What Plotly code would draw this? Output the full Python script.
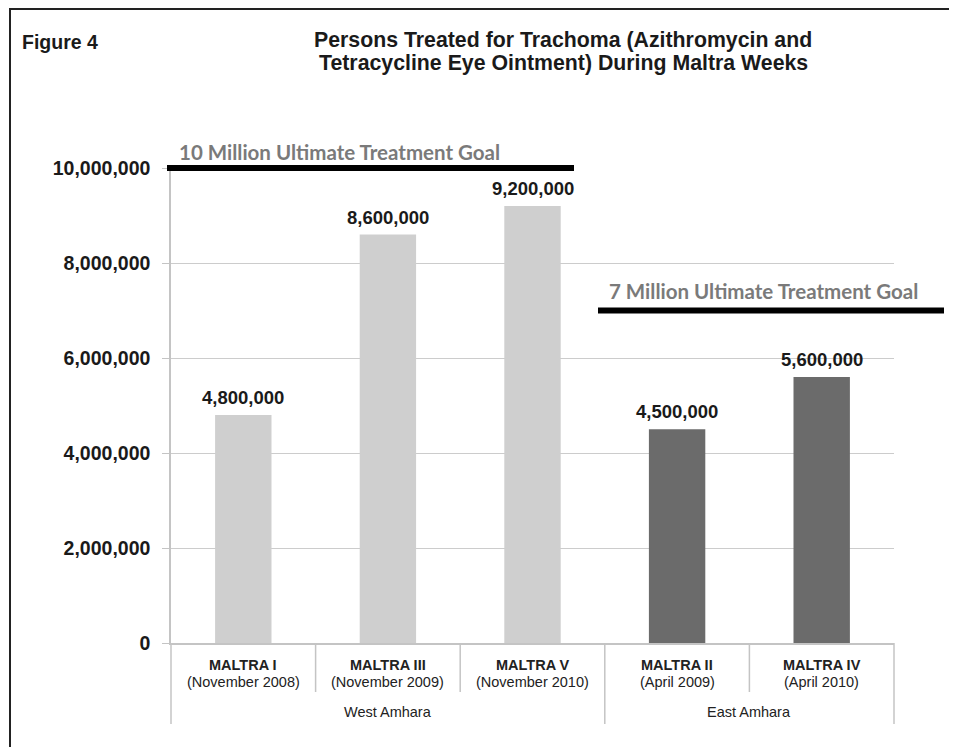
import plotly.graph_objects as go

# ---- data ----
programs = ["MALTRA I", "MALTRA III", "MALTRA V", "MALTRA II", "MALTRA IV"]
dates = ["(November 2008)", "(November 2009)", "(November 2010)", "(April 2009)", "(April 2010)"]
regions = ["West Amhara", "West Amhara", "West Amhara", "East Amhara", "East Amhara"]
treated = [4800000, 8600000, 9200000, 4500000, 5600000]
goal_values = [10000000, 7000000]
goal_labels = ["10 Million Ultimate Treatment Goal", "7 Million Ultimate Treatment Goal"]
y_ticks = [0, 2000000, 4000000, 6000000, 8000000, 10000000]
title_lines = ["Persons Treated for Trachoma (Azithromycin and",
               "Tetracycline Eye Ointment) During Maltra Weeks"]

region_colors = {"West Amhara": "#cfcfcf", "East Amhara": "#6b6b6b"}
ymax = max(y_ticks)
n = len(programs)

SW, SH = 957, 747          # browser window
OFF = 8                    # page offset of the figure inside the window
W, H = SW - OFF, SH - OFF  # figure size so that nothing overflows
# plot area in screen pixels
PL, PR, PT, PB = 171, 894, 168, 643
L = PL - OFF
T = PT - OFF
R = W - (PR - OFF)
B = H - (PB - OFF)
pw = PR - PL
ph = PB - PT


def px_x(p):
    return (p - PL) / pw


def px_y(p):
    return (PB - p) / ph


fig = go.Figure()
fig.add_trace(go.Bar(
    x=list(range(n)), y=treated,
    marker=dict(color=[region_colors[r] for r in regions], line=dict(width=0)),
    hoverinfo="skip", showlegend=False,
))

SANS = "Liberation Sans, Arial, sans-serif"
num_font = dict(family=SANS, size=18.5, color="#1a1a1a")

annotations = []
# value labels above bars
for i, v in enumerate(treated):
    annotations.append(dict(x=i, y=v, xref="x", yref="y", text=f"<b>{v:,}</b>",
                            showarrow=False, yanchor="bottom", yshift=5, font=num_font))

# category labels
for i in range(n):
    annotations.append(dict(x=i, y=px_y(665), xref="x", yref="paper", yanchor="middle",
                            text=f"<b>{programs[i]}</b>", showarrow=False,
                            font=dict(family=SANS, size=14.5, color="#222")))
    annotations.append(dict(x=i, y=px_y(682), xref="x", yref="paper", yanchor="middle",
                            text=dates[i], showarrow=False,
                            font=dict(family=SANS, size=14.5, color="#222")))

# region labels and dividers
shapes = []
groups = []
for i, r in enumerate(regions):
    if not groups or groups[-1][0] != r:
        groups.append([r, i, i])
    else:
        groups[-1][2] = i
for r, a, b in groups:
    annotations.append(dict(x=(a + b) / 2, y=px_y(712), xref="x", yref="paper", text=r,
                            showarrow=False, yanchor="middle",
                            font=dict(family=SANS, size=14.5, color="#222")))

group_edges = set()
for r, a, b in groups:
    group_edges.add(a)
    group_edges.add(b + 1)
for k in range(n + 1):
    y1 = px_y(724) if k in group_edges else px_y(692)
    shapes.append(dict(type="line", xref="paper", yref="paper", x0=k / n, x1=k / n,
                       y0=0, y1=y1, line=dict(color="#c4c4c4", width=1.5)))

# goal lines
goal_extents = [(167, 574), (598, 944)]
goal_text_pos = [(177, 152, "left"), (763, 291, "center")]
for g, lab, (xa, xb), (tx, ty, anc) in zip(goal_values, goal_labels, goal_extents, goal_text_pos):
    shapes.append(dict(type="line", xref="paper", yref="paper", x0=px_x(xa), x1=px_x(xb),
                       y0=g / ymax, y1=g / ymax, line=dict(color="#000", width=6)))
    annotations.append(dict(x=px_x(tx), y=px_y(ty), xref="paper", yref="paper",
                            text=f"<b>{lab}</b>", showarrow=False, xanchor=anc, yanchor="middle",
                            font=dict(family="Lato, Open Sans, sans-serif", size=20.5, color="#7a7a7a")))

# titles
annotations.append(dict(x=px_x(20), y=px_y(42), xref="paper", yref="paper", xanchor="left",
                        yanchor="middle", text="<b>Figure 4</b>", showarrow=False,
                        font=dict(family=SANS, size=19.5, color="#1a1a1a")))
for j, line in enumerate(title_lines):
    annotations.append(dict(x=px_x(563), y=px_y(40 + 23 * j), xref="paper", yref="paper",
                            xanchor="center", yanchor="middle",
                            text=f"<b>{line}</b>", showarrow=False,
                            font=dict(family=SANS, size=21.3, color="#1a1a1a")))

# outer frame
shapes.append(dict(type="rect", xref="paper", yref="paper", x0=px_x(10), x1=px_x(954),
                   y0=px_y(800), y1=px_y(OFF + 1), line=dict(color="#222", width=2)))

fig.update_layout(
    width=W, height=H,
    margin=dict(l=L, r=R, t=T, b=B),
    paper_bgcolor="white", plot_bgcolor="white",
    bargap=0.61,
    shapes=shapes, annotations=annotations,
    xaxis=dict(type="linear", range=[-0.5, n - 0.5], showticklabels=False, showgrid=False,
               zeroline=False, showline=True, linecolor="#c4c4c4", linewidth=1.5, ticks=""),
    yaxis=dict(range=[0, ymax], tickvals=y_ticks, tickformat=",", showgrid=True,
               gridcolor="#cccccc", gridwidth=1.2, zeroline=False, showline=True,
               linecolor="#c4c4c4", linewidth=1.5, ticks="outside", ticklen=7,
               tickcolor="#c4c4c4", tickfont=dict(family=SANS, size=19.5,
                                                   color="#1a1a1a", weight="bold"),
               ticklabelstandoff=8),
)

fig.write_html("out.html")
